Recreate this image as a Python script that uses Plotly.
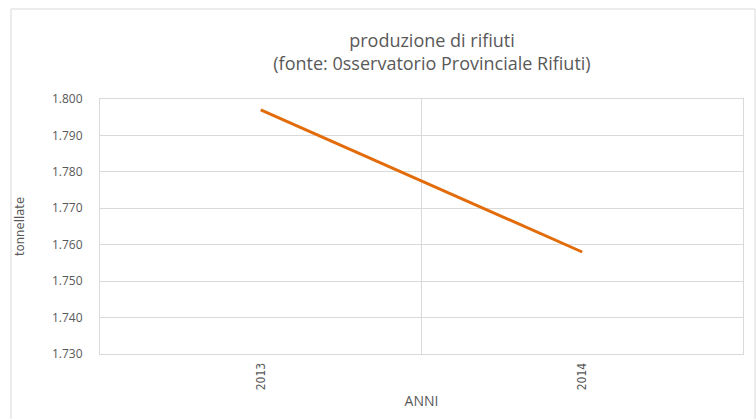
import plotly.graph_objects as go

categories = ["2013", "2014"]
values = [1797, 1758]
x_pos = [0, 1]

fig = go.Figure()
fig.add_trace(go.Scatter(x=x_pos, y=values, mode="lines",
                         line=dict(color="#E36C0A", width=3), showlegend=False,
                         hoverinfo="skip"))

grid = "#d9d9d9"
narrow = "Liberation Sans Narrow, DejaVu Sans Condensed, sans-serif"
fig.update_layout(
    width=756, height=419,
    margin=dict(l=100, r=13, t=99, b=65, autoexpand=False),
    paper_bgcolor="white", plot_bgcolor="white",
    separators=",.",
    font=dict(family="Open Sans, Noto Sans, sans-serif", color="#595959", size=12),
    title=dict(text="produzione di rifiuti<br>(fonte: 0sservatorio Provinciale Rifiuti)",
               x=432 / 756, xanchor="center",
               y=1 - 47 / 419, yanchor="middle",
               font=dict(size=18, color="#595959")),
    xaxis=dict(range=[-0.5, 1.5], tickvals=x_pos, ticktext=categories,
               tickangle=-90, showgrid=False, zeroline=False, automargin=False,
               showline=True, linecolor=grid, mirror=True,
               tickfont=dict(size=12, color="#595959", family=narrow),
               ticks="", ticklabelstandoff=3,
               minor=dict(tickvals=[-0.5, 0.5, 1.5], showgrid=True, gridcolor=grid, gridwidth=1, ticks=""),
               title=dict(text="ANNI", standoff=6,
                          font=dict(size=14, color="#595959"))),
    yaxis=dict(range=[1730, 1800], dtick=10, tickformat=",d",
               showgrid=True, gridcolor=grid, gridwidth=1, zeroline=False, automargin=False,
               showline=True, linecolor=grid, mirror=True, ticks="",
               ticklabelstandoff=14,
               tickfont=dict(size=12, color="#595959"),
               title=dict(text="tonnellate", standoff=24,
                          font=dict(size=13, color="#595959", family=narrow))),
    shapes=[dict(type="rect", xref="paper", yref="paper",
                 x0=(11 - 100) / 643, x1=(755 - 100) / 643,
                 y0=-0.5, y1=(354 - 9) / 255,
                 line=dict(color="#d9d9d9", width=1), fillcolor="rgba(0,0,0,0)",
                 layer="below")],
)

fig.write_html("out.html", config={"displayModeBar": False},
               post_script="document.body.style.margin='0px';document.body.style.overflow='hidden';")
